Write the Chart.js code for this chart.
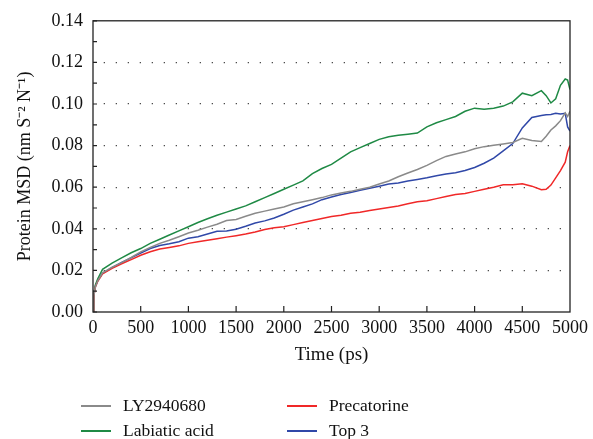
<!DOCTYPE html>
<html>
<head>
<meta charset="utf-8">
<script src="https://cdn.jsdelivr.net/npm/chart.js@4"></script>
<style>
  html, body { margin: 0; padding: 0; background: #fff; }
  #wrap { position: relative; width: 593px; height: 439px; }
  #legend {
    position: absolute; left: 81px; top: 393px;
    display: grid; grid-template-columns: 206px 206px; grid-auto-rows: 25px;
    font-family: "Liberation Serif", serif; font-size: 17.5px; color: #111;
  }
  .item { display: flex; align-items: center; }
  .swatch { width: 30px; height: 2px; margin-right: 12px; }
</style>
</head>
<body>
<div id="wrap">
  <canvas id="msdChart" width="593" height="439"></canvas>
  <div id="legend"></div>
</div>
<script>
// Time points (ps)
const times = [0, 10, 25, 50, 100, 200, 300, 400, 500, 600, 700, 800, 900, 1000,
  1100, 1200, 1300, 1400, 1500, 1600, 1700, 1800, 1900, 2000, 2100, 2200, 2300,
  2400, 2500, 2600, 2700, 2800, 2900, 3000, 3100, 3200, 3300, 3400, 3500, 3600,
  3700, 3800, 3900, 4000, 4100, 4200, 4300, 4400, 4500, 4600, 4700, 4750, 4800,
  4850, 4900, 4950, 4975, 5000];

// Protein MSD values
const ly2940680 = [0, 0.008, 0.012, 0.015, 0.0188, 0.0215, 0.0237, 0.0262, 0.0289, 0.031,
  0.033, 0.0345, 0.0362, 0.038, 0.0393, 0.0408, 0.0422, 0.044, 0.0445, 0.046,
  0.0475, 0.0485, 0.0495, 0.0505, 0.052, 0.053, 0.054, 0.055, 0.0563, 0.0572,
  0.058, 0.059, 0.060, 0.0615, 0.063, 0.065, 0.0668, 0.0685, 0.0705, 0.0728,
  0.0748, 0.076, 0.077, 0.0785, 0.0795, 0.0802, 0.0808, 0.0815, 0.0835, 0.0825,
  0.082, 0.0845, 0.0875, 0.0895, 0.092, 0.0957, 0.094, 0.0965];

const labiaticAcid = [0, 0.009, 0.013, 0.016, 0.0205, 0.0235, 0.026, 0.0285, 0.0305, 0.033,
  0.035, 0.037, 0.039, 0.041, 0.043, 0.0448, 0.0465, 0.048, 0.0495, 0.051,
  0.053, 0.055, 0.057, 0.059, 0.061, 0.063, 0.0665, 0.069, 0.071, 0.074,
  0.077, 0.079, 0.081, 0.083, 0.0843, 0.085, 0.0855, 0.086, 0.089, 0.091,
  0.0925, 0.094, 0.0965, 0.098, 0.0975, 0.098, 0.099, 0.101, 0.1052, 0.104,
  0.1064, 0.104, 0.1005, 0.1025, 0.109, 0.112, 0.1115, 0.107];

const precatorine = [0, 0.008, 0.012, 0.0148, 0.0183, 0.021, 0.0232, 0.0252, 0.0273, 0.029,
  0.0303, 0.031, 0.0318, 0.033, 0.0338, 0.0345, 0.0352, 0.036, 0.0367, 0.0375,
  0.0385, 0.0397, 0.0405, 0.041, 0.042, 0.043, 0.044, 0.045, 0.0459, 0.0465,
  0.0475, 0.048, 0.0488, 0.0495, 0.0502, 0.051, 0.052, 0.053, 0.0535, 0.0545,
  0.0555, 0.0565, 0.057, 0.058, 0.059, 0.060, 0.0612, 0.0612, 0.0617, 0.0605,
  0.0588, 0.059, 0.061, 0.0645, 0.068, 0.072, 0.077, 0.080];

const top3 = [0, 0.0085, 0.0125, 0.0152, 0.0186, 0.0213, 0.0238, 0.026, 0.0283, 0.0305,
  0.032, 0.0328, 0.0338, 0.0355, 0.0362, 0.0375, 0.0388, 0.039, 0.0398, 0.0412,
  0.0428, 0.0438, 0.0452, 0.047, 0.049, 0.0505, 0.052, 0.054, 0.0553, 0.0565,
  0.0575, 0.0585, 0.0595, 0.0605, 0.0615, 0.062, 0.063, 0.0637, 0.0645, 0.0655,
  0.0663, 0.067, 0.068, 0.0695, 0.0715, 0.074, 0.0775, 0.081, 0.0885, 0.0935,
  0.0945, 0.0948, 0.095, 0.0955, 0.0952, 0.0955, 0.089, 0.087];

const seriesNames = ['LY2940680', 'Precatorine', 'Labiatic acid', 'Top 3'];
const seriesValues = [ly2940680, precatorine, labiaticAcid, top3];
const seriesColors = ['#8a8a8a', '#f02828', '#1f8a45', '#3048a8'];

const FONT = '"Liberation Serif", "Times New Roman", serif';

// Frame + inward tick marks
const framePlugin = {
  id: 'frame',
  afterDatasetsDraw(chart) {
    const { ctx, chartArea: a, scales } = chart;
    ctx.save();
    ctx.strokeStyle = '#222';
    ctx.lineWidth = 1.3;
    ctx.strokeRect(a.left, a.top, a.right - a.left, a.bottom - a.top);
    ctx.lineWidth = 1.2;
    ctx.beginPath();
    scales.x.ticks.forEach(t => {
      const px = scales.x.getPixelForValue(t.value);
      if (t.value === 0 || t.value === 5000) return;
      ctx.moveTo(px, a.bottom);
      ctx.lineTo(px, a.bottom - 6);
    });
    scales.y.ticks.forEach(t => {
      const py = scales.y.getPixelForValue(t.value);
      ctx.moveTo(a.left, py);
      ctx.lineTo(a.left + 4, py);
    });
    ctx.stroke();
    ctx.restore();
  }
};

const ctx = document.getElementById('msdChart').getContext('2d');
new Chart(ctx, {
  type: 'line',
  data: {
    datasets: seriesNames.map((name, i) => ({
      label: name,
      data: times.map((t, j) => ({ x: t, y: seriesValues[i][j] })),
      borderColor: seriesColors[i],
      borderWidth: 1.5,
      pointRadius: 0,
      tension: 0,
      fill: false
    }))
  },
  options: {
    responsive: false,
    animation: false,
    layout: { padding: { left: 0, right: 21, top: 17, bottom: 60 } },
    plugins: { legend: { display: false }, tooltip: { enabled: false } },
    scales: {
      x: {
        type: 'linear',
        min: 0, max: 5000,
        grid: { display: false, drawTicks: false },
        border: { display: false },
        ticks: { stepSize: 500, color: '#111', padding: 5, maxRotation: 0,
          font: { family: FONT, size: 18 },
          callback: v => String(v) },
        title: { display: true, text: 'Time (ps)', color: '#111',
          font: { family: FONT, size: 19, lineHeight: 1.2 }, padding: { top: 0, bottom: 13 } },
        afterFit: s => { s.height = 67; }
      },
      y: {
        min: 0, max: 0.14,
        grid: {
          drawTicks: false,
          color: c => {
            const k = Math.round(c.tick.value * 100);
            return (k % 2 === 0 && k > 0 && k < 14) ? 'rgba(0,0,0,0.7)' : 'rgba(0,0,0,0)';
          },
          lineWidth: 1.3
        },
        border: { display: false, dash: [1.3, 10.7], dashOffset: 1.3 },
        ticks: {
          stepSize: 0.01, autoSkip: false, color: '#111', padding: 10,
          font: { family: FONT, size: 18 },
          callback: v => (Math.round(v * 100) % 2 === 0 ? v.toFixed(2) : '')
        },
        title: { display: true, text: 'Protein MSD (nm S⁻² N⁻¹)', color: '#111',
          font: { family: FONT, size: 18, lineHeight: 1.2 }, padding: { top: 14, bottom: 0 } },
        afterFit: s => { s.width = 93; }
      }
    }
  },
  plugins: [framePlugin]
});

// Legend laid out in two columns like the figure
const legend = document.getElementById('legend');
seriesNames.forEach((name, i) => {
  const item = document.createElement('div');
  item.className = 'item';
  item.innerHTML = `<span class="swatch" style="background:${seriesColors[i]}"></span><span>${name}</span>`;
  legend.appendChild(item);
});
</script>
</body>
</html>
